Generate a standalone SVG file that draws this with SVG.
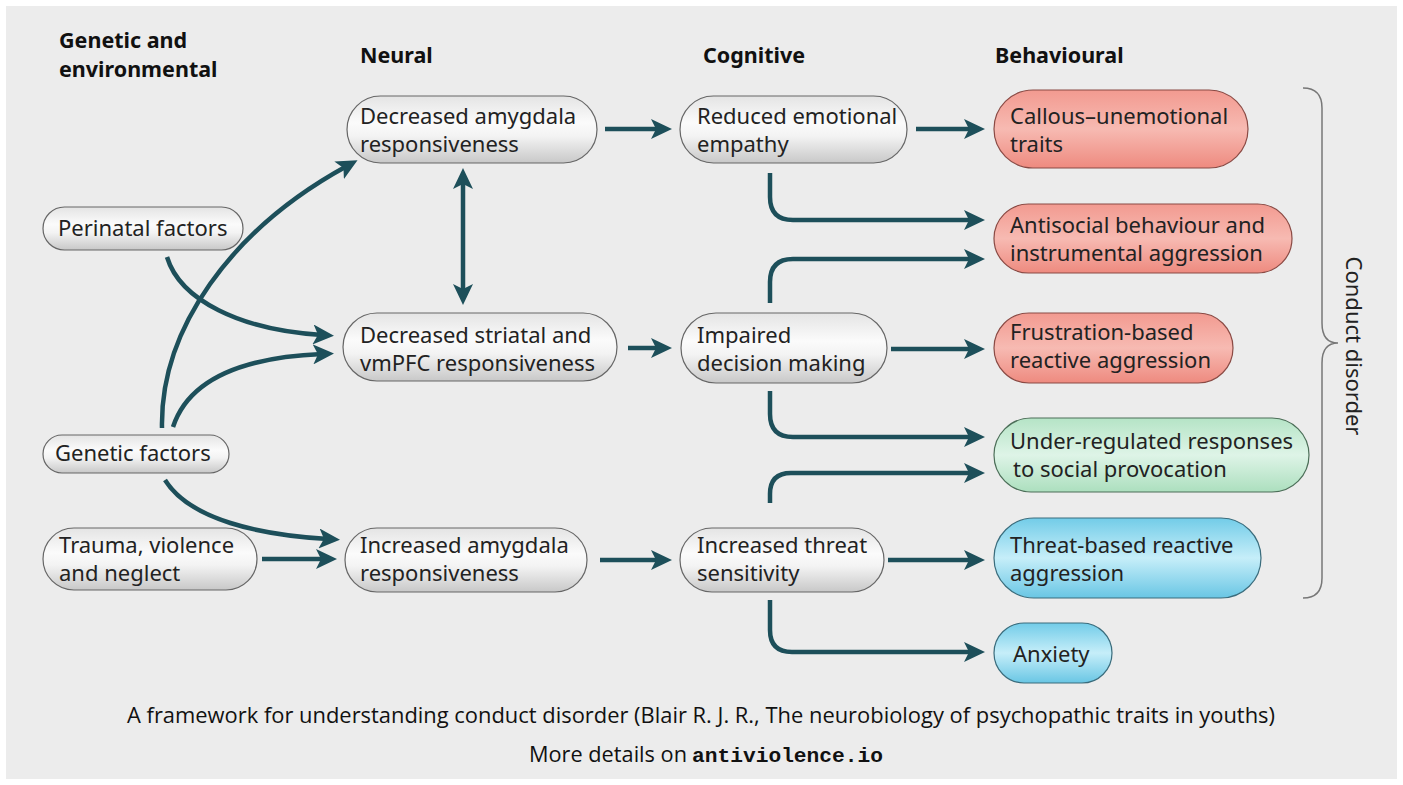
<svg xmlns="http://www.w3.org/2000/svg" width="1403" height="785" viewBox="0 0 1403 785">
<defs>
<style>
.hdr{font-family:"Noto Sans","Open Sans",sans-serif;font-weight:bold;font-size:21.5px;fill:#111}
.lbl{font-family:"Noto Sans","Open Sans",sans-serif;font-size:22px;fill:#222}
.cap{font-family:"Open Sans","Noto Sans",sans-serif;font-size:21px;fill:#111}
.mono{font-family:"Liberation Mono","DejaVu Sans Mono",monospace;font-weight:bold;font-size:21px;fill:#111}
.grey{fill:url(#gGrey);stroke:#666;stroke-width:1.2}
.red{fill:url(#gRed);stroke:#8a4a44;stroke-width:1.2}
.green{fill:url(#gGreen);stroke:#4c6e58;stroke-width:1.2}
.blue{fill:url(#gBlue);stroke:#3a6c7c;stroke-width:1.2}
.con{fill:none;stroke:#1d4f5a;stroke-width:4.5;marker-end:url(#ah)}
</style>
<linearGradient id="gGrey" x1="0" y1="0" x2="0" y2="1">
<stop offset="0" stop-color="#e4e4e4"/><stop offset="0.4" stop-color="#fbfbfb"/><stop offset="0.6" stop-color="#f3f3f3"/><stop offset="1" stop-color="#c8c8c8"/>
</linearGradient>
<linearGradient id="gRed" x1="0" y1="0" x2="0" y2="1">
<stop offset="0" stop-color="#f29a90"/><stop offset="0.5" stop-color="#f7bab2"/><stop offset="1" stop-color="#ee8a7f"/>
</linearGradient>
<linearGradient id="gGreen" x1="0" y1="0" x2="0" y2="1">
<stop offset="0" stop-color="#b5e4c6"/><stop offset="0.5" stop-color="#def4e7"/><stop offset="1" stop-color="#acdfbe"/>
</linearGradient>
<linearGradient id="gBlue" x1="0" y1="0" x2="0" y2="1">
<stop offset="0" stop-color="#72cce8"/><stop offset="0.5" stop-color="#c6eef9"/><stop offset="1" stop-color="#69c6e4"/>
</linearGradient>
<marker id="ah" markerUnits="userSpaceOnUse" markerWidth="22" markerHeight="20" viewBox="0 0 22 20" refX="9" refY="10" orient="auto-start-reverse">
<path d="M0,0 L21,10 L0,20 L5,10 Z" fill="#1d4f5a"/>
</marker>
</defs>
<rect x="0" y="0" width="1403" height="785" fill="#ffffff"/>
<rect x="6" y="6" width="1391" height="773" fill="#ececec"/>

<g id="headers">
<text class="hdr" x="59" y="48">Genetic and</text>
<text class="hdr" x="59" y="77">environmental</text>
<text class="hdr" x="360" y="63">Neural</text>
<text class="hdr" x="703" y="63">Cognitive</text>
<text class="hdr" x="995" y="63">Behavioural</text>
</g>

<g id="connectors">
<path class="con" d="M605,129 H660"/>
<path class="con" d="M916,129 H973"/>
<path class="con" d="M770,173 V197 Q770,220 793,220 H973"/>
<path class="con" d="M770,303 V282 Q770,259 793,259 H973"/>
<path class="con" d="M463,180 V293" style="marker-start:url(#ah)"/>
<path class="con" d="M628,348 H660"/>
<path class="con" d="M891,349 H973"/>
<path class="con" d="M770,391 V414 Q770,437 793,437 H973"/>
<path class="con" d="M770,503 V494 Q770,473 791,473 H973"/>
<path class="con" d="M888,560 H973"/>
<path class="con" d="M770,600 V630 Q770,652 792,652 H973"/>
<path class="con" d="M600,560 H660"/>
<path class="con" d="M262,559 H325"/>
<path class="con" d="M162,428 C160,330 230,230 347,166"/>
<path class="con" d="M173,427 C190,375 250,357 322,354"/>
<path class="con" d="M167,257 C180,300 240,330 322,335"/>
<path class="con" d="M165,480 C190,520 260,535 328,539"/>
</g>

<g id="n_dec_amyg"><rect class="grey" x="347" y="96" width="250" height="67" rx="33.5"/>
<text class="lbl" x="360" y="124">Decreased amygdala</text><text class="lbl" x="360" y="152">responsiveness</text></g>
<g id="n_empathy"><rect class="grey" x="680" y="96" width="227" height="67" rx="33.5"/>
<text class="lbl" x="697" y="124">Reduced emotional</text><text class="lbl" x="697" y="152">empathy</text></g>
<g id="n_perinatal"><rect class="grey" x="43" y="207" width="200" height="43" rx="21.5"/>
<text class="lbl" x="58" y="236">Perinatal factors</text></g>
<g id="n_striatal"><rect class="grey" x="343" y="313" width="274" height="68" rx="34"/>
<text class="lbl" x="360" y="343">Decreased striatal and</text><text class="lbl" x="360" y="371">vmPFC responsiveness</text></g>
<g id="n_impaired"><rect class="grey" x="681" y="313" width="206" height="70" rx="35"/>
<text class="lbl" x="697" y="343">Impaired</text><text class="lbl" x="697" y="371">decision making</text></g>
<g id="n_genetic"><rect class="grey" x="43" y="435" width="186" height="38" rx="19"/>
<text class="lbl" x="55" y="461">Genetic factors</text></g>
<g id="n_trauma"><rect class="grey" x="43" y="528" width="214" height="62" rx="31"/>
<text class="lbl" x="59" y="553">Trauma, violence</text><text class="lbl" x="59" y="581">and neglect</text></g>
<g id="n_inc_amyg"><rect class="grey" x="345" y="528" width="242" height="64" rx="32"/>
<text class="lbl" x="360" y="553">Increased amygdala</text><text class="lbl" x="360" y="581">responsiveness</text></g>
<g id="n_threat"><rect class="grey" x="680" y="528" width="204" height="64" rx="32"/>
<text class="lbl" x="697" y="553">Increased threat</text><text class="lbl" x="697" y="581">sensitivity</text></g>

<g id="n_callous"><rect class="red" x="994" y="90" width="254" height="78" rx="39"/>
<text class="lbl" x="1010" y="124">Callous–unemotional</text><text class="lbl" x="1010" y="152">traits</text></g>
<g id="n_antisocial"><rect class="red" x="994" y="204" width="298" height="69" rx="34.5"/>
<text class="lbl" x="1010" y="233">Antisocial behaviour and</text><text class="lbl" x="1010" y="261">instrumental aggression</text></g>
<g id="n_frustration"><rect class="red" x="994" y="313" width="239" height="70" rx="35"/>
<text class="lbl" x="1010" y="340">Frustration-based</text><text class="lbl" x="1010" y="368">reactive aggression</text></g>
<g id="n_underreg"><rect class="green" x="994" y="418" width="315" height="74" rx="37"/>
<text class="lbl" x="1010" y="449">Under-regulated responses</text><text class="lbl" x="1013" y="477">to social provocation</text></g>
<g id="n_threat_based"><rect class="blue" x="994" y="518" width="267" height="80" rx="40"/>
<text class="lbl" x="1010" y="553">Threat-based reactive</text><text class="lbl" x="1010" y="581">aggression</text></g>
<g id="n_anxiety"><rect class="blue" x="994" y="623" width="118" height="60" rx="30"/>
<text class="lbl" x="1013" y="662">Anxiety</text></g>

<g id="brace">
<path d="M1303,88 Q1322,88 1322,108 V323 Q1322,343 1338,343 Q1322,343 1322,363 V578 Q1322,598 1303,598" fill="none" stroke="#777" stroke-width="1.5"/>
<text class="lbl" transform="translate(1346,346) rotate(90)" text-anchor="middle">Conduct disorder</text>
</g>

<g id="caption">
<text class="cap" x="127" y="723" textLength="1148" lengthAdjust="spacingAndGlyphs">A framework for understanding conduct disorder (Blair R. J. R., The neurobiology of psychopathic traits in youths)</text>
<text class="cap" x="529" y="762" textLength="158" lengthAdjust="spacingAndGlyphs">More details on</text>
<text class="mono" x="692" y="762" textLength="191" lengthAdjust="spacingAndGlyphs">antiviolence.io</text>
</g>
</svg>
